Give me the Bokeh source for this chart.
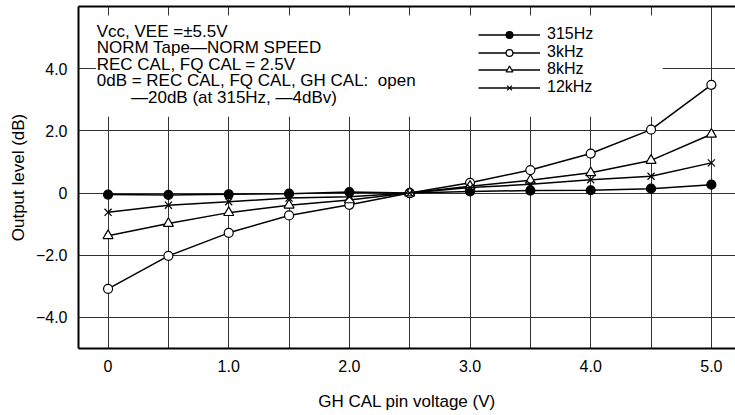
import numpy as np
from bokeh.plotting import figure
from bokeh.models import Range1d, FixedTicker, LinearAxis, Legend, LegendItem
from bokeh.core.properties import value
from bokeh.embed import file_html
from bokeh.resources import INLINE

# ---- data ----
voltage = [0, 0.5, 1.0, 1.5, 2.0, 2.5, 3.0, 3.5, 4.0, 4.5, 5.0]
level_315hz = [-0.05, -0.06, -0.04, -0.02, 0.03, 0.0, 0.05, 0.08, 0.09, 0.14, 0.27]
level_3khz = [-3.08, -2.02, -1.28, -0.72, -0.38, 0.0, 0.33, 0.74, 1.27, 2.04, 3.48]
level_8khz = [-1.37, -0.98, -0.63, -0.39, -0.22, 0.0, 0.22, 0.41, 0.65, 1.05, 1.89]
level_12khz = [-0.62, -0.39, -0.28, -0.16, -0.12, 0.0, 0.18, 0.28, 0.43, 0.54, 0.97]
series_names = ["315Hz", "3kHz", "8kHz", "12kHz"]

x_ticks = [0, 1, 2, 3, 4, 5]
x_tick_labels = ["0", "1.0", "2.0", "3.0", "4.0", "5.0"]
x_grid_ticks = [0, 0.5, 1.0, 1.5, 2.0, 2.5, 3.0, 3.5, 4.0, 4.5, 5.0]
y_ticks = [-4, -2, 0, 2, 4]
y_tick_labels = ["\u22124.0", "\u22122.0", "0", "2.0", "4.0"]

note_lines = [
    "Vcc, VEE =\u00b15.5V",
    "NORM Tape\u2014NORM SPEED",
    "REC CAL, FQ CAL = 2.5V",
    "0dB = REC CAL, FQ CAL, GH CAL:\u00a0 open",
    "\u201420dB (at 315Hz, \u20144dBv)",
]

FONT = "Liberation Sans"

p = figure(width=735, height=415, output_backend="svg", toolbar_location=None,
           x_range=Range1d(-0.245, 5.2), y_range=Range1d(-5, 6),
           min_border_left=78, min_border_right=0, min_border_top=6, min_border_bottom=67,
           background_fill_color="white", border_fill_color="white")
p.outline_line_color = None

# axes
p.xaxis.ticker = FixedTicker(ticks=x_ticks)
p.xaxis.major_label_overrides = {t: l for t, l in zip(x_ticks, x_tick_labels)}
p.yaxis.ticker = FixedTicker(ticks=y_ticks)
p.yaxis.major_label_overrides = {t: l for t, l in zip(y_ticks, y_tick_labels)}
p.xaxis.axis_label = "GH CAL pin voltage (V)"
p.yaxis.axis_label = "Output level (dB)"
for ax in (p.xaxis[0], p.yaxis[0]):
    ax.axis_line_width = 2
    ax.axis_line_color = "black"
    ax.major_tick_line_color = None
    ax.minor_tick_line_color = None
    ax.major_label_text_font = FONT
    ax.major_label_text_font_size = "16px"
    ax.major_label_text_color = "black"
    ax.axis_label_text_font = FONT
    ax.axis_label_text_font_size = "17px"
    ax.axis_label_text_font_style = "normal"
    ax.axis_label_text_color = "black"
p.xaxis.major_label_standoff = 5
p.xaxis.axis_label_standoff = 17
p.yaxis.major_label_standoff = 5
p.yaxis.axis_label_standoff = 5

top_axis = LinearAxis(ticker=FixedTicker(ticks=[]), axis_line_width=2, axis_line_color="black",
                      major_tick_line_color=None, minor_tick_line_color=None,
                      major_label_text_font_size="0px", major_label_standoff=0,
                      major_tick_out=0)
p.add_layout(top_axis, "above")

# grid
p.xgrid.ticker = FixedTicker(ticks=x_grid_ticks)
p.ygrid.ticker = FixedTicker(ticks=y_ticks)
for g in (p.xgrid[0], p.ygrid[0]):
    g.grid_line_color = "#333333"
    g.grid_line_width = 1

# white area behind the notes
p.quad(left=-0.10, right=4.596, bottom=2.45, top=5.71, fill_color="white", line_color=None)

# notes
note_x = [-0.094, -0.094, -0.094, -0.094, 0.19]
note_y = [5.21, 4.67, 4.13, 3.63, 3.06]
p.text(x=note_x, y=note_y, text=note_lines, text_font=value(FONT), text_font_size="17px",
       text_color="black", text_baseline="middle", text_align="left")

# series
styles = [
    (level_315hz, "circle", "black", 9),
    (level_3khz, "circle", "white", 9),
    (level_8khz, "triangle", "white", 10),
    (level_12khz, "x", "black", 10),
]
legend_bottoms = [305, 287, 270, 252]
for name, (vals, marker, fill, size), lb in zip(series_names, styles, legend_bottoms):
    lr = p.line(voltage, vals, line_color="black", line_width=1.5)
    sr = p.scatter(voltage, vals, marker=marker, size=size, fill_color=fill,
                   line_color="black", line_width=1.2)
    legend = Legend(items=[LegendItem(label=name, renderers=[lr, sr])], location=(400, lb),
                    orientation="vertical",
                    glyph_width=62, glyph_height=17, label_height=17, label_standoff=7,
                    spacing=0, padding=0, margin=0,
                    label_text_font=FONT, label_text_font_size="16px", label_text_color="black",
                    background_fill_alpha=0, border_line_color=None)
    p.add_layout(legend)

open("out.html", "w").write(file_html(p, INLINE))
